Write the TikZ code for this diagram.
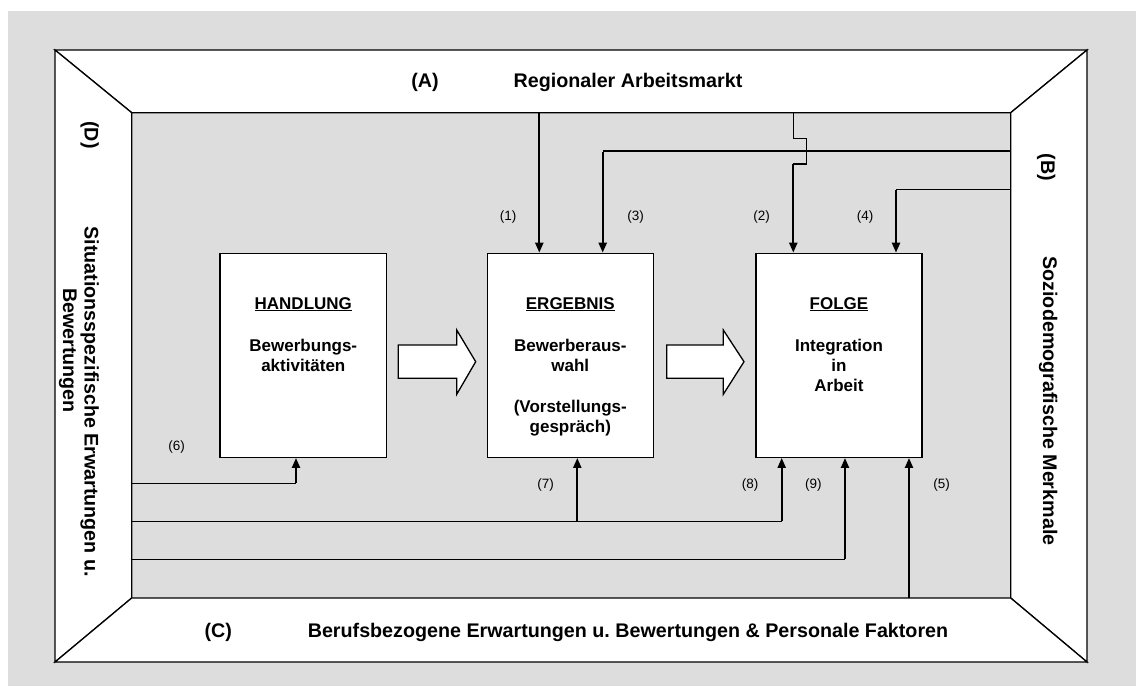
\documentclass[tikz,border=0pt]{standalone}
\usepackage{fontspec}
\setmainfont{Liberation Sans}
\usetikzlibrary{arrows.meta}
\definecolor{bggray}{RGB}{221,221,221}
\begin{document}
\begin{tikzpicture}[x=1pt,y=-1pt,
  frame/.style={draw=black,line width=1.3pt,fill=white,line join=miter},
  stage/.style={draw=black,line width=1.3pt,fill=white,minimum width=166pt,minimum height=204pt,inner sep=0pt},
  title/.style={font=\fontsize{17}{20}\selectfont\bfseries,anchor=base,inner sep=0pt},
  body/.style={font=\fontsize{17}{20}\selectfont\bfseries,anchor=base,inner sep=0pt},
  side/.style={font=\fontsize{19.7}{24}\selectfont\bfseries,anchor=base,inner sep=0pt},
  vside/.style={side,rotate=-90},
  num/.style={font=\fontsize{13.5}{16}\selectfont,anchor=base,inner sep=0pt},
  feed/.style={line width=1.2pt},
  influence/.style={line width=2.2pt,-{Triangle[length=10pt,width=8pt]}},
  flow/.style={draw=black,line width=1.3pt,fill=white,line join=miter}]
\useasboundingbox (0,0) rectangle (1136,686);
\fill[white] (0,0) rectangle (1136,686);
\fill[bggray] (8,11) rectangle (1136,686);

% outer and inner corners of the frame
\coordinate (ol) at (55,50);   \coordinate (or) at (1087,50);
\coordinate (ul) at (55,662);  \coordinate (ur) at (1087,662);
\coordinate (il) at (131.7,112.7); \coordinate (ir) at (1010.7,112.7);
\coordinate (jl) at (131.7,598);   \coordinate (jr) at (1010.7,598);

% the four bevelled side panels
\draw[frame] (ol) -- (or) -- (ir) -- (il) -- cycle;
\draw[frame] (ol) -- (il) -- (jl) -- (ul) -- cycle;
\draw[frame] (or) -- (ir) -- (jr) -- (ur) -- cycle;
\draw[frame] (ul) -- (jl) -- (jr) -- (ur) -- cycle;

% panel texts
\node[side] (lA) at (425,87) {(A)};
\node[side] (tA) at (628,87) {Regionaler Arbeitsmarkt};
\node[side] (lC) at (218.3,637) {(C)};
\node[side] (tC) at (628,637) {Berufsbezogene Erwartungen u.\ Bewertungen \& Personale Faktoren};
\node[vside] (lD) at (84.7,135) {(D)};
\node[vside] (tD1) at (84.7,401.7) {Situationsspezifische Erwartungen u.};
\node[vside] (tD2) at (63,350.5) {Bewertungen};
\node[vside] (lB) at (1041,167.5) {(B)};
\node[vside] (tB) at (1043,401) {Soziodemografische Merkmale};

% the three stages
\node[stage,minimum width=166.7pt] (hand) at (303.3,355.3) {};
\node[stage] (erg) at (570.3,355.3) {};
\node[stage] (folge) at (839,355.3) {};

\node[title] (handT) at (303.3,309) {\underline{HANDLUNG}};
\node[body] (hand1) at (303.3,351) {Bewerbungs-};
\node[body] (hand2) at (303.3,371) {aktivitäten};

\node[title] (ergT) at (570.3,309) {\underline{ERGEBNIS}};
\node[body] (erg1) at (570.3,351) {Bewerberaus-};
\node[body] (erg2) at (570.3,371) {wahl};
\node[body] (erg3) at (570.3,412.7) {(Vorstellungs-};
\node[body] (erg4) at (570.3,432.7) {gespräch)};

\node[title] (folgeT) at (839,309) {\underline{FOLGE}};
\node[body] (folge1) at (839,351) {Integration};
\node[body] (folge2) at (839,371) {in};
\node[body] (folge3) at (839,391) {Arbeit};

% block arrows between the stages
\draw[flow] (398.3,345) -- (456.7,345) -- (456.7,330) -- (475.7,361.7)
  -- (456.7,394.3) -- (456.7,378.3) -- (398.3,378.3) -- cycle;
\draw[flow] (666.7,345) -- (723.3,345) -- (723.3,330) -- (744,361.7)
  -- (723.3,394.3) -- (723.3,378.3) -- (666.7,378.3) -- cycle;

% influences from above and from the right
\coordinate (a1) at (539.3,112.7);
\draw[influence] (a1) -- (erg.north -| a1);

\coordinate (b3) at (1010.7,151);
\coordinate (k3) at (602.7,151);
\draw[feed] (b3) -- (k3);
\draw[influence] ([yshift=-0.6pt]k3) -- (erg.north -| k3);

\coordinate (a2) at (793.3,112.7);
\coordinate (k2) at (793.3,164);
\draw[feed] (a2) -- (793.3,138.3) -- (806.7,138.3) -- (806.7,164) -- (k2);
\draw[influence] (k2) -- (folge.north -| k2);

\coordinate (b4) at (1010.7,189.3);
\coordinate (k4) at (896,189.3);
\draw[feed] (b4) -- (k4);
\draw[influence] ([yshift=-0.6pt]k4) -- (folge.north -| k4);

% influences from the left and from below
\coordinate (d6) at (131.7,483.3);
\coordinate (k6) at (296,483.3);
\draw[feed] (d6) -- (k6);
\draw[influence] ([yshift=0.6pt]k6) -- (hand.south -| k6);

\coordinate (d8) at (131.7,521.7);
\coordinate (k7) at (577.3,521.7);
\coordinate (k8) at (781.7,521.7);
\draw[feed] (d8) -- (k8);
\draw[influence] ([yshift=0.6pt]k7) -- (erg.south -| k7);
\draw[influence] ([yshift=0.6pt]k8) -- (folge.south -| k8);

\coordinate (d9) at (131.7,559.3);
\coordinate (k9) at (845,559.3);
\draw[feed] (d9) -- (k9);
\draw[influence] ([yshift=0.6pt]k9) -- (folge.south -| k9);

\coordinate (c5) at (909,598);
\draw[influence] (c5) -- (folge.south -| c5);

% path numbers
\node[num] (n1) at (508,220.2) {(1)};
\node[num] (n3) at (635.7,220.2) {(3)};
\node[num] (n2) at (761.7,220.2) {(2)};
\node[num] (n4) at (865,220.2) {(4)};
\node[num] (n6) at (176.7,450.8) {(6)};
\node[num] (n7) at (545.7,488.5) {(7)};
\node[num] (n8) at (750,488.5) {(8)};
\node[num] (n9) at (813.3,488.5) {(9)};
\node[num] (n5) at (941.7,488.5) {(5)};
\end{tikzpicture}
\end{document}
